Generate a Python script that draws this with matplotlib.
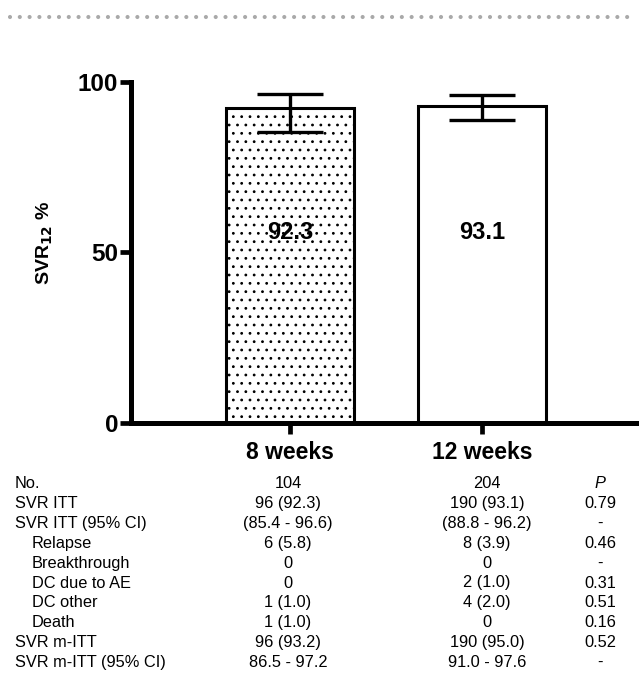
import matplotlib
matplotlib.use("Agg")
import matplotlib.pyplot as plt
from matplotlib.lines import Line2D

plt.rcParams['font.family'] = ['Liberation Sans', 'DejaVu Sans']
plt.rcParams['hatch.linewidth'] = 0.8

# ---- data ----
categories = ["8 weeks", "12 weeks"]
svr_values = [92.3, 93.1]
ci_low = [85.4, 88.8]
ci_high = [96.6, 96.2]
bar_hatches = ["..", ""]

row_labels = ["No.", "SVR ITT", "SVR ITT (95% CI)", "Relapse", "Breakthrough",
              "DC due to AE", "DC other", "Death", "SVR m-ITT", "SVR m-ITT (95% CI)"]
row_indent = [False, False, False, True, True, True, True, True, False, False]
col_8w = ["104", "96 (92.3)", "(85.4 - 96.6)", "6 (5.8)", "0", "0", "1 (1.0)",
          "1 (1.0)", "96 (93.2)", "86.5 - 97.2"]
col_12w = ["204", "190 (93.1)", "(88.8 - 96.2)", "8 (3.9)", "0", "2 (1.0)",
           "4 (2.0)", "0", "190 (95.0)", "91.0 - 97.6"]
col_p = ["P", "0.79", "-", "0.46", "-", "0.31", "0.51", "0.16", "0.52", "-"]

W, H = 639, 674
fig = plt.figure(figsize=(W / 100, H / 100), dpi=100)

# axes placement (pixels)
ax_left, ax_right, ax_top, ax_bottom = 130.7, 639, 82, 422.7
ax = fig.add_axes([ax_left / W, 1 - ax_bottom / H, (ax_right - ax_left) / W,
                   (ax_bottom - ax_top) / H])

x = list(range(len(categories)))
lower = [v - l for v, l in zip(svr_values, ci_low)]
upper = [h - v for v, h in zip(svr_values, ci_high)]

for xi, v, hatch in zip(x, svr_values, bar_hatches):
    ax.bar(xi, v, width=0.67, color="white", edgecolor="black", linewidth=2.2,
           hatch=hatch, zorder=2)

ax.errorbar(x, svr_values, yerr=[lower, upper], fmt="none", ecolor="black",
            elinewidth=2.4, capsize=24, capthick=2.4, zorder=3)

for xi, v in zip(x, svr_values):
    ax.text(xi, 55.7, f"{v:.1f}", ha="center", va="center", fontsize=17,
            fontweight="bold", zorder=4)

ax.set_xlim(-0.83, 1.818)
ax.set_ylim(0, 100)
ax.set_yticks([0, 50, 100])
ax.set_xticks(x)
ax.set_xticklabels(categories)
for sp in ["top", "right"]:
    ax.spines[sp].set_visible(False)
for sp in ["left", "bottom"]:
    ax.spines[sp].set_linewidth(3.6)
ax.tick_params(axis="y", length=8, width=3.4, pad=1, labelsize=17.5)
ax.tick_params(axis="x", length=8, width=3.4, pad=5, labelsize=16.5)
for lab in ax.get_xticklabels() + ax.get_yticklabels():
    lab.set_fontweight("bold")

fig.text(45 / W, 1 - 243 / H, r"SVR$_{\mathbf{12}}$ %", rotation=90, ha="center",
         va="center", fontsize=14, fontweight="bold")

# ---- table ----
row_y0, row_step = 484, 19.8
for i, (lab, ind) in enumerate(zip(row_labels, row_indent)):
    yy = 1 - (row_y0 + i * row_step) / H
    fs = 11.8
    fig.text((32 if ind else 15) / W, yy, lab, ha="left", va="center", fontsize=fs)
    fig.text(288 / W, yy, col_8w[i], ha="center", va="center", fontsize=fs)
    fig.text(487 / W, yy, col_12w[i], ha="center", va="center", fontsize=fs)
    fig.text(600 / W, yy, col_p[i], ha="center", va="center", fontsize=fs,
             style="italic" if i == 0 else "normal")

# dotted separator at top
fig.add_artist(Line2D([10 / W, 636 / W], [1 - 17 / H, 1 - 17 / H],
                      transform=fig.transFigure, color="#a9a9a9", linewidth=3.0,
                      linestyle=(0, (0.001, 2.35)), dash_capstyle="round"))

fig.savefig("out.png", dpi=100)
